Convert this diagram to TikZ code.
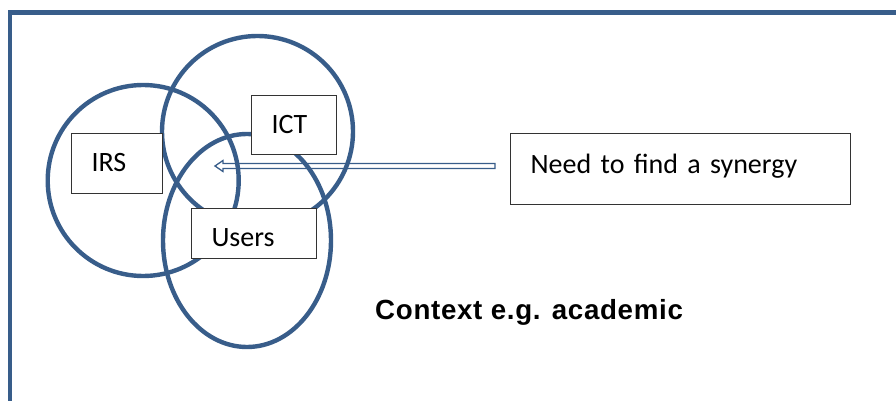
\documentclass[tikz,border=0pt]{standalone}
\usepackage{fontspec}
\setmainfont{Carlito}
\newfontfamily\ctxfont[LetterSpace=2.5]{Liberation Sans}
\usetikzlibrary{calc}
\definecolor{ringblue}{HTML}{385D8A}
\begin{document}
\begin{tikzpicture}[x=1pt,y=-1pt,
  ring/.style={draw=ringblue, line width=4.4pt},
  frameline/.style={draw=ringblue, line width=4.3pt},
  hollowarrow/.style={draw=ringblue, line width=1.3pt, fill=white, line join=miter},
  labelbox/.style={draw=black!80, line width=1pt, fill=white, inner xsep=20pt, inner ysep=0pt,
    align=left, anchor=north west, text height=20pt, text depth=5pt,
    font=\fontsize{28}{30}\selectfont},
  ctxlabel/.style={anchor=base west, inner sep=0pt, font=\ctxfont\bfseries\fontsize{27.7}{30}\selectfont}
]
\useasboundingbox (0,0) rectangle (896,401);
% frame
\draw[frameline] (10,415) -- (10,12.5) -- (910,12.5);
% arrow
\coordinate (tip) at (215,166);
\coordinate (tail) at (495,166);
\draw[hollowarrow] (tip) -- ($(tip)+(8,-5.5)$) -- ($(tip)+(8,-2.5)$) -- ($(tail)+(0,-2.5)$)
  -- ($(tail)+(0,2.5)$) -- ($(tip)+(8,2.5)$) -- ($(tip)+(8,5.5)$) -- cycle;
% rings
\draw[ring] (257.5,131.5) circle[radius=95.5pt];
\draw[ring] (143.2,180.5) circle[radius=95.5pt];
\draw[ring] (247,240.5) ellipse[x radius=84pt, y radius=106.5pt];
% boxes
\node[labelbox, text width=51pt, minimum height=60pt] (irs) at (71,133) {IRS};
\node[labelbox, text width=45pt, minimum height=59pt, text depth=3pt] (ict) at (251,95) {ICT};
\node[labelbox, text width=85pt, minimum height=50pt, text height=26pt, text depth=0pt] (users) at (191,208) {Users};
\node[labelbox, text width=300pt, minimum height=71pt, text depth=11.6pt, line width=1.3pt] (need) at (510,133) {Need to find a synergy};
% context
\node[ctxlabel] (ctx) at (375,319) {Context e.g. academic};
\end{tikzpicture}
\end{document}
